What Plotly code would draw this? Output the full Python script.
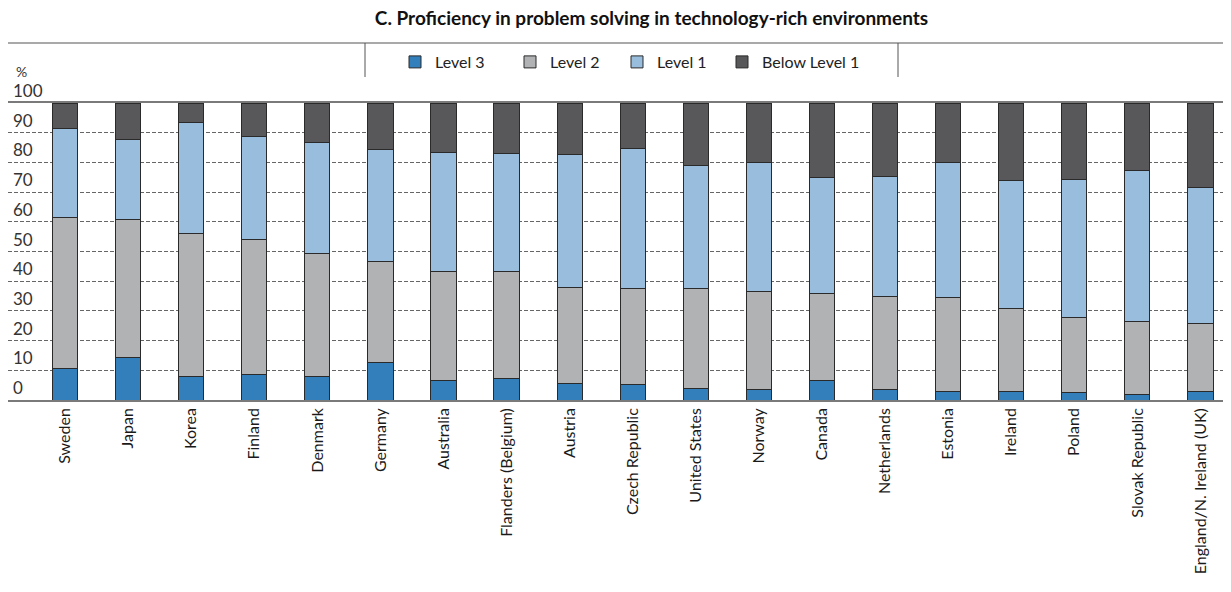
import plotly.graph_objects as go

countries = ["Sweden", "Japan", "Korea", "Finland", "Denmark", "Germany", "Australia",
             "Flanders (Belgium)", "Austria", "Czech Republic", "United States", "Norway",
             "Canada", "Netherlands", "Estonia", "Ireland", "Poland", "Slovak Republic",
             "England/N. Ireland (UK)"]
level3 = [10.7, 14.3, 7.8, 8.7, 7.9, 12.7, 6.4, 7.3, 5.7, 5.2, 4.0, 3.7, 6.4, 3.4, 3.0, 2.7, 2.6, 1.8, 2.7]
level2 = [50.7, 46.4, 48.1, 45.3, 41.3, 33.8, 37.0, 36.0, 32.3, 32.4, 33.4, 33.0, 29.5, 31.5, 31.4, 28.0, 25.3, 24.6, 22.9]
level1 = [29.9, 26.9, 37.5, 34.7, 37.5, 37.7, 40.1, 39.8, 44.6, 47.2, 41.7, 43.4, 38.9, 40.5, 45.7, 43.1, 46.5, 50.8, 46.1]
below1 = [8.7, 12.4, 6.6, 11.3, 13.3, 15.8, 16.5, 16.9, 17.4, 15.2, 20.9, 19.9, 25.2, 24.6, 19.9, 26.2, 25.6, 22.8, 28.3]
y_ticks = [0, 10, 20, 30, 40, 50, 60, 70, 80, 90, 100]

series = [("Level 3", level3, "#337fbc"),
          ("Level 2", level2, "#b1b2b4"),
          ("Level 1", level1, "#99bedd"),
          ("Below Level 1", below1, "#58585a")]

FONT = "Lato"
W, H = 1231, 592
OFF = 8  # page body margin
L, R, T, B = 0, 0, 95, 200
ph = H - T - B
pw = W - L - R


def ry(p):  # reference pixel y -> paper
    return (H - B - (p - OFF)) / ph


def rx(p):  # reference pixel x -> paper
    return (p - OFF - L) / pw


legend_names = ["legend", "legend2", "legend3", "legend4"]
legend_x = [410, 525, 632, 737]

fig = go.Figure()
for (name, vals, col), lg in zip(series, legend_names):
    fig.add_trace(go.Bar(x=countries, y=vals, name=name, width=0.4, legend=lg, showlegend=True,
                         marker=dict(color=col, line=dict(color="#2a2a2a", width=1))))

legend_common = dict(orientation="h", yanchor="middle", xanchor="left",
                     font=dict(family=FONT, size=16, color="#222"),
                     itemclick=False, bgcolor="rgba(0,0,0,0)", borderwidth=0)
layout_legends = {}
for lg, lx in zip(legend_names, legend_x):
    layout_legends[lg] = dict(legend_common, x=rx(lx - 15), y=ry(62))

fig.update_layout(
    width=W, height=H,
    margin=dict(l=L, r=R, t=T, b=B),
    barmode="stack",
    showlegend=True,
    plot_bgcolor="white", paper_bgcolor="white",
    font=dict(family=FONT, color="#222"),
    title=dict(text="<b>C. Proficiency in problem solving in technology-rich environments</b>",
               x=(651.5 - OFF) / W, xanchor="center", y=1 - (18 - OFF) / H, yanchor="middle",
               font=dict(family=FONT, size=19, color="#111")),
    xaxis=dict(range=[-57 / 63.08, (pw - 57) / 63.08], tickangle=-90, showline=True, mirror=True,
               linecolor="#7a7a7a", linewidth=1.5, ticks="", showgrid=False, automargin=False,
               tickfont=dict(family=FONT, size=16, color="#1a1a1a")),
    yaxis=dict(range=[0, 100], tickvals=y_ticks, side="right", anchor="free", position=rx(12),
               ticklabelposition="outside top", automargin=False,
               showgrid=True, gridcolor="#666", griddash="4px,2px", gridwidth=1,
               zeroline=False, showline=False, ticks="",
               tickfont=dict(family=FONT, size=17, color="#333")),
    shapes=[
        dict(type="line", xref="paper", yref="paper", x0=rx(7), x1=1, y0=ry(43), y1=ry(43),
             line=dict(color="#555", width=1.2)),
        dict(type="line", xref="paper", yref="paper", x0=rx(365), x1=rx(365), y0=ry(43), y1=ry(77),
             line=dict(color="#555", width=1)),
        dict(type="line", xref="paper", yref="paper", x0=rx(898), x1=rx(898), y0=ry(43), y1=ry(77),
             line=dict(color="#555", width=1)),
    ],
    annotations=[dict(text="%", xref="paper", yref="paper", x=rx(14), y=ry(72),
                      xanchor="left", yanchor="middle", showarrow=False,
                      font=dict(family=FONT, size=14, color="#333"))],
    **layout_legends,
)

fig.write_html("out.html")
